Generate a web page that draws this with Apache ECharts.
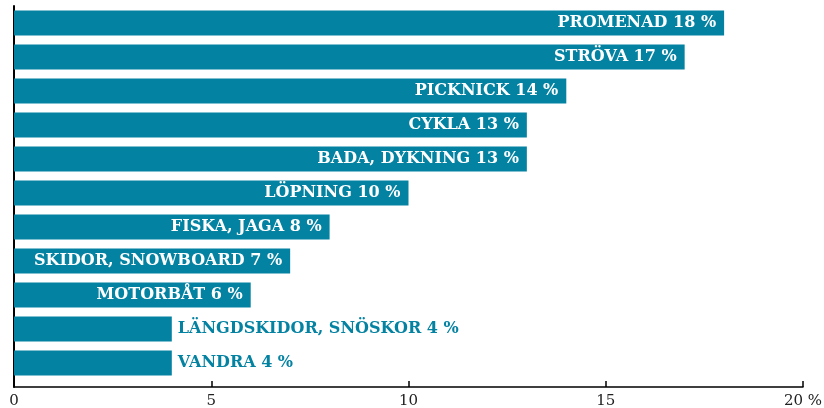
<!doctype html>
<html lang="sv">
  <head>
    <meta charset="utf-8">
    <title>Aktiviteter</title>
    <script src="https://cdn.jsdelivr.net/npm/echarts@6.0.0/dist/echarts.min.js"></script>
    <style>
      body { margin: 0; background: #fff; }
    </style>
  </head>
  <body>
    <div id="chart" style="width:824px;height:408px;"></div>

  <script>
    // data, top to bottom
    var categories = ['PROMENAD', 'STRÖVA', 'PICKNICK', 'CYKLA', 'BADA, DYKNING', 'LÖPNING',
      'FISKA, JAGA', 'SKIDOR, SNOWBOARD', 'MOTORBÅT', 'LÄNGDSKIDOR, SNÖSKOR', 'VANDRA'];
    var values = [18, 17, 14, 13, 13, 10, 8, 7, 6, 4, 4];
    var tickLabels = { 0: '0', 5: '5', 10: '10', 15: '15', 20: '20 %' };

    var teal = '#0482a2';
    var font = '"DejaVu Serif", serif';

    var chart = echarts.init(document.getElementById('chart'), null, { renderer: 'canvas' });

    var seriesData = values.map(function (v, i) {
      var item = { value: v, name: categories[i] };
      // short bars get their label outside, in the bar colour
      if (v < 5) {
        item.label = { position: 'right', color: teal, distance: 6 };
      }
      return item;
    });

    var option = {
      animation: false,
      // grid 0 holds the bars, grid 1 is only the axis frame (a bit taller)
      grid: [
        { left: 14, right: 21, top: 6, bottom: 28, outerBoundsMode: 'none' },
        { left: 14, right: 21, top: 6, bottom: 21, outerBoundsMode: 'none' }
      ],
      xAxis: [{
        type: 'value', gridIndex: 0, min: 0, max: 20, show: false
      }, {
        type: 'value',
        gridIndex: 1,
        min: 0,
        max: 20,
        interval: 5,
        splitLine: { show: false },
        axisLine: { show: true, lineStyle: { color: '#000', width: 1.5 } },
        axisTick: { show: true, inside: true, length: 6, lineStyle: { color: '#000', width: 1.5 } },
        axisLabel: {
          color: '#222', fontFamily: font, fontSize: 15, margin: 7,
          formatter: function (v) { return tickLabels[v]; },
          alignMinLabel: 'center', alignMaxLabel: 'center',
          showMaxLabel: true
        }
      }],
      yAxis: [{
        type: 'category',
        gridIndex: 0,
        inverse: true,
        data: categories,
        show: false
      }, {
        type: 'value',
        gridIndex: 1,
        min: 0,
        max: 1,
        splitLine: { show: false },
        axisLine: { show: true, lineStyle: { color: '#000', width: 2 } },
        axisTick: { show: false },
        axisLabel: { show: false }
      }],
      series: [{
        type: 'bar',
        xAxisIndex: 0,
        yAxisIndex: 0,
        data: seriesData,
        barCategoryGap: '26.5%',
        itemStyle: { color: teal },
        label: {
          show: true,
          position: 'insideRight',
          distance: 8,
          color: '#fff',
          fontFamily: font,
          fontWeight: 'bold',
          fontSize: 16,
          formatter: function (p) { return p.name + ' ' + p.value + ' %'; }
        }
      }]
    };

    chart.setOption(option);
  </script>
  </body>
</html>
